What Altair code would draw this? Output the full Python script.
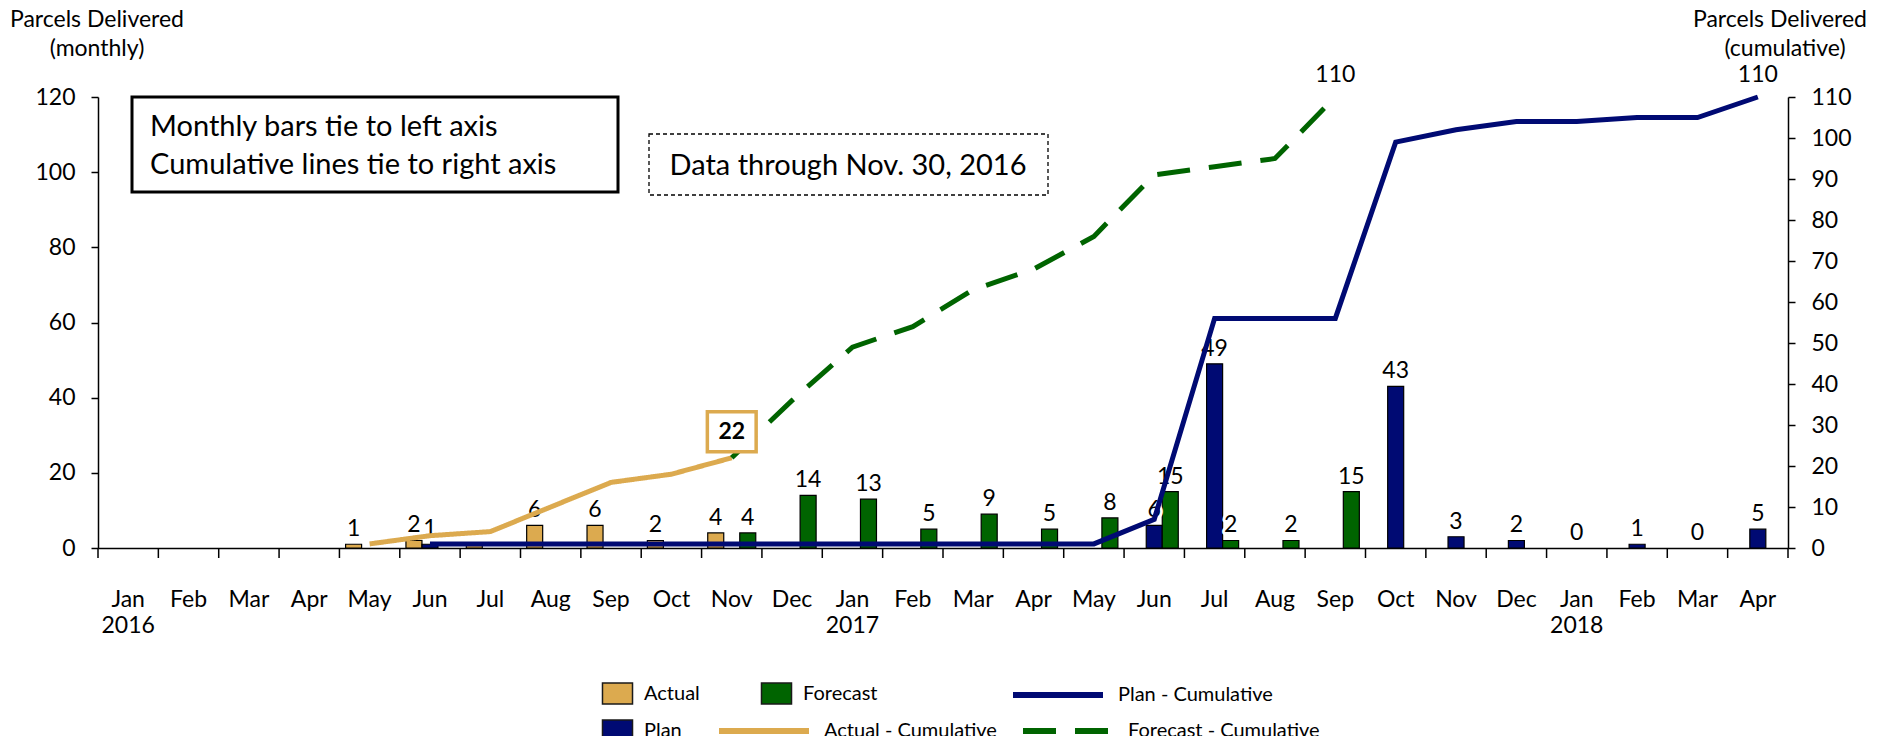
import altair as alt
import pandas as pd

FONT = "Lato"
C_ACT = "#DCAA4F"
C_PLAN = "#000A73"
C_FC = "#006400"

months = ["Jan 2016", "Feb 2016", "Mar 2016", "Apr 2016", "May 2016", "Jun 2016",
          "Jul 2016", "Aug 2016", "Sep 2016", "Oct 2016", "Nov 2016", "Dec 2016",
          "Jan 2017", "Feb 2017", "Mar 2017", "Apr 2017", "May 2017", "Jun 2017",
          "Jul 2017", "Aug 2017", "Sep 2017", "Oct 2017", "Nov 2017", "Dec 2017",
          "Jan 2018", "Feb 2018", "Mar 2018", "Apr 2018"]
year_labels = [("Jan 2016", "2016"), ("Jan 2017", "2017"), ("Jan 2018", "2018")]

# monthly deliveries (left axis)
actual_monthly = [None, None, None, None, 1, 2, 1, 6, 6, 2, 4,
                  None, None, None, None, None, None, None, None, None, None,
                  None, None, None, None, None, None, None]
plan_monthly = [None, None, None, None, None, 1, None, None, None, None, None,
                None, None, None, None, None, None, 6, 49, None, None,
                43, 3, 2, 0, 1, 0, 5]
forecast_monthly = [None, None, None, None, None, None, None, None, None, None, 4,
                    14, 13, 5, 9, 5, 8, 15, 2, 2, 15,
                    None, None, None, None, None, None, None]

# cumulative deliveries (right axis)
actual_cum = [None, None, None, None, 1, 3, 4, 10, 16, 18, 22,
              None, None, None, None, None, None, None, None, None, None,
              None, None, None, None, None, None, None]
plan_cum = [None, None, None, None, None, 1, 1, 1, 1, 1, 1,
            1, 1, 1, 1, 1, 1, 7, 56, 56, 56,
            99, 102, 104, 104, 105, 105, 110]
forecast_cum = [None, None, None, None, None, None, None, None, None, None, 22,
                36, 49, 54, 63, 68, 76, 91, 93, 95, 110,
                None, None, None, None, None, None, None]

bar_series = ["Actual", "Plan", "Forecast"]
bar_legend_order = ["Actual", "Plan", "Forecast"]
bar_colors = [C_ACT, C_PLAN, C_FC]
hidden_bar_labels = [("Actual", "Jul 2016")]
af_names = ["Actual - Cumulative", "Forecast - Cumulative"]
end_labels = [("Forecast - Cumulative", "Sep 2017", 110), ("Plan - Cumulative", "Apr 2018", 110)]
callout = ("Nov 2016", 22)
left_title = ["Parcels Delivered", "(monthly)"]
right_title = ["Parcels Delivered", "(cumulative)"]
note1 = ["Monthly bars tie to left axis", "Cumulative lines tie to right axis"]
note2 = "Data through Nov. 30, 2016"

# ---- tables ----
bar_rows = []
for s, arr in zip(bar_series, [actual_monthly, plan_monthly, forecast_monthly]):
    for m, v in zip(months, arr):
        if v is not None:
            bar_rows.append({"month": m, "series": s, "value": v, "label": str(v),
                             "show": (s, m) not in hidden_bar_labels})
bars_df = pd.DataFrame(bar_rows)

line_rows = []
for s, arr in zip(["Actual - Cumulative", "Plan - Cumulative", "Forecast - Cumulative"],
                  [actual_cum, plan_cum, forecast_cum]):
    for m, v in zip(months, arr):
        if v is not None:
            line_rows.append({"month": m, "series": s, "value": v})
lines_df = pd.DataFrame(line_rows)
end_df = pd.DataFrame([{"series": s, "month": m, "value": v, "label": str(v)} for s, m, v in end_labels])
call_df = pd.DataFrame([{"month": callout[0], "value": callout[1], "label": str(callout[1])}])
tick_df = pd.DataFrame({"month": months})
end_tick_df = pd.DataFrame({"month": [months[-1]]})
year_df = pd.DataFrame([{"month": m, "year": y} for m, y in year_labels])

# ---- encodings ----
x_axis = alt.Axis(title=None, labelAngle=0,
                  labelExpr="isString(datum.value) ? split(datum.value, ' ')[0] : ''",
                  labelFont=FONT, labelFontSize=23, labelColor="black",
                  labelPadding=30, tickSize=10, tickOpacity=0,
                  domainColor="black", domainWidth=1.5, grid=False)
x_scale = alt.Scale(domain=months, paddingInner=0, paddingOuter=0)
x_enc = alt.X("month:N", sort=months, scale=x_scale, axis=x_axis)
xoff = alt.XOffset("series:N", sort=bar_series,
                   scale=alt.Scale(domain=bar_series, paddingInner=0, paddingOuter=0.385))

axis_kw = dict(title=None, labelFont=FONT, labelFontSize=23, labelColor="black", labelPadding=16,
               tickSize=7, tickColor="black", tickWidth=1.5, domainColor="black",
               domainWidth=1.5, grid=False)
yl_axis = alt.Axis(orient="left", values=[0, 20, 40, 60, 80, 100, 120], **axis_kw)
yr_axis = alt.Axis(orient="right", values=list(range(0, 111, 10)), **axis_kw)
yl = alt.Y("value:Q", scale=alt.Scale(domain=[0, 120], nice=False), axis=yl_axis)
yr = alt.Y("value:Q", scale=alt.Scale(domain=[0, 110], nice=False), axis=yr_axis)

RECT = "M-1.43,-1L1.43,-1L1.43,1L-1.43,1Z"
common_leg = dict(title=None, orient="none", labelFont=FONT, labelFontSize=20,
                  labelColor="black", labelLimit=400)
line_leg = dict(symbolType="stroke", symbolSize=8100, symbolStrokeWidth=6, labelOffset=12, **common_leg)
fill_enc = alt.Fill("series:N", scale=alt.Scale(domain=bar_legend_order, range=bar_colors),
                    legend=alt.Legend(legendX=508, legendY=585, columns=2, symbolType=RECT,
                                      symbolSize=441, symbolStrokeColor="#1a1a1a",
                                      symbolStrokeWidth=1.5, labelOffset=15,
                                      columnPadding=58, rowPadding=10, **common_leg))

# ---- monthly group ----
bars = alt.Chart(bars_df).transform_filter("datum.value > 0").mark_bar(
    stroke="black", strokeWidth=1.2, opacity=1).encode(x=x_enc, xOffset=xoff, y=yl, fill=fill_enc)
lab_src = alt.Chart(bars_df).transform_filter("datum.show")
halo = lab_src.mark_text(font=FONT, fontSize=23, baseline="alphabetic", dy=-8, color="white",
                         stroke="white", strokeWidth=6, strokeJoin="round").encode(
    x=x_enc, xOffset=xoff, y=yl, text="label:N")
labels = lab_src.mark_text(font=FONT, fontSize=23, baseline="alphabetic", dy=-8, color="black").encode(
    x=x_enc, xOffset=xoff, y=yl, text="label:N")

# ---- cumulative group ----
af_leg = alt.Legend(legendX=618, legendY=586, columns=2, columnPadding=14, **line_leg)
af_lines = alt.Chart(lines_df).transform_filter(
    alt.FieldOneOfPredicate(field="series", oneOf=af_names)).mark_line(
    strokeWidth=5, strokeCap="butt", strokeJoin="miter").encode(
    x=x_enc, y=yr,
    stroke=alt.Stroke("series:N", scale=alt.Scale(domain=af_names, range=[C_ACT, C_FC]), legend=af_leg),
    strokeDash=alt.StrokeDash("series:N", scale=alt.Scale(domain=af_names, range=[[1, 0], [33, 19]]),
                              legend=af_leg))
plan_line = alt.Chart(lines_df).transform_filter(alt.datum.series == "Plan - Cumulative").mark_line(
    strokeWidth=5, strokeCap="butt", strokeJoin="miter").encode(
    x=x_enc, y=yr,
    color=alt.Color("series:N", scale=alt.Scale(domain=["Plan - Cumulative"], range=[C_PLAN]),
                    legend=alt.Legend(legendX=912, legendY=550, **line_leg)))
ends = alt.Chart(end_df).mark_text(font=FONT, fontSize=23, baseline="alphabetic", dy=-15,
                                   color="black").encode(x=x_enc, y=yr, text="label:N")
call_box = alt.Chart(call_df).mark_point(shape="M-1.22,-1L1.22,-1L1.22,1L-1.22,1Z", size=1600,
                                         filled=True, fill="white", stroke=C_ACT, strokeWidth=3.5,
                                         opacity=1, yOffset=-26).encode(x=x_enc, y=yr)
call_txt = alt.Chart(call_df).mark_text(font=FONT, fontSize=23, fontWeight="bold", baseline="middle",
                                        color="black", yOffset=-26).encode(x=x_enc, y=yr, text="label:N")

# ---- month boundary ticks and year labels ----
ticks = alt.Chart(tick_df).mark_rule(color="black", strokeWidth=1.5).encode(
    x=alt.X("month:N", sort=months, scale=x_scale, axis=x_axis, bandPosition=0),
    y=alt.value(451), y2=alt.value(461))
end_tick = alt.Chart(end_tick_df).mark_rule(color="black", strokeWidth=1.5).encode(
    x=alt.X("month:N", sort=months, scale=x_scale, axis=x_axis, bandPosition=1),
    y=alt.value(451), y2=alt.value(461))
years = alt.Chart(year_df).mark_text(font=FONT, fontSize=23, baseline="middle", color="black").encode(
    x=x_enc, y=alt.value(529), text="year:N")

# ---- titles and notes ----
ann = pd.DataFrame({"k": [0]})


def label(txt, x, y, size=23, align="center"):
    return alt.Chart(ann).mark_text(text=txt, font=FONT, fontSize=size, align=align,
                                    baseline="alphabetic", color="black").encode(
        x=alt.value(x), y=alt.value(y))


titles = [label(left_title[0], -1, -70), label(left_title[1], -1, -41),
          label(right_title[0], 1682, -70), label(right_title[1], 1687, -41)]
box1 = alt.Chart(ann).mark_rect(fill="white", stroke="black", strokeWidth=3).encode(
    x=alt.value(34), x2=alt.value(520), y=alt.value(0), y2=alt.value(95))
box2 = alt.Chart(ann).mark_rect(fill="white", stroke="black", strokeWidth=1.3, strokeDash=[4, 3]).encode(
    x=alt.value(551), x2=alt.value(950), y=alt.value(37), y2=alt.value(98))
notes = [label(note1[0], 52, 39, 29, "left"), label(note1[1], 52, 77, 29, "left"),
         label(note2, 750, 78, 29)]

bars_group = alt.layer(bars, halo, labels, ticks, end_tick, years)
lines_group = alt.layer(af_lines, plan_line, ends, call_box, call_txt)

chart = alt.layer(bars_group, lines_group, box1, box2, *notes, *titles).resolve_scale(
    y="independent").properties(
    width=1690, height=451,
    padding={"left": 90, "top": 89, "right": 89, "bottom": 188},
    autosize=alt.AutoSizeParams(type="none"),
    background="white",
).configure_view(stroke=None)

chart.save("out.html", embed_options={"renderer": "svg", "actions": False})
